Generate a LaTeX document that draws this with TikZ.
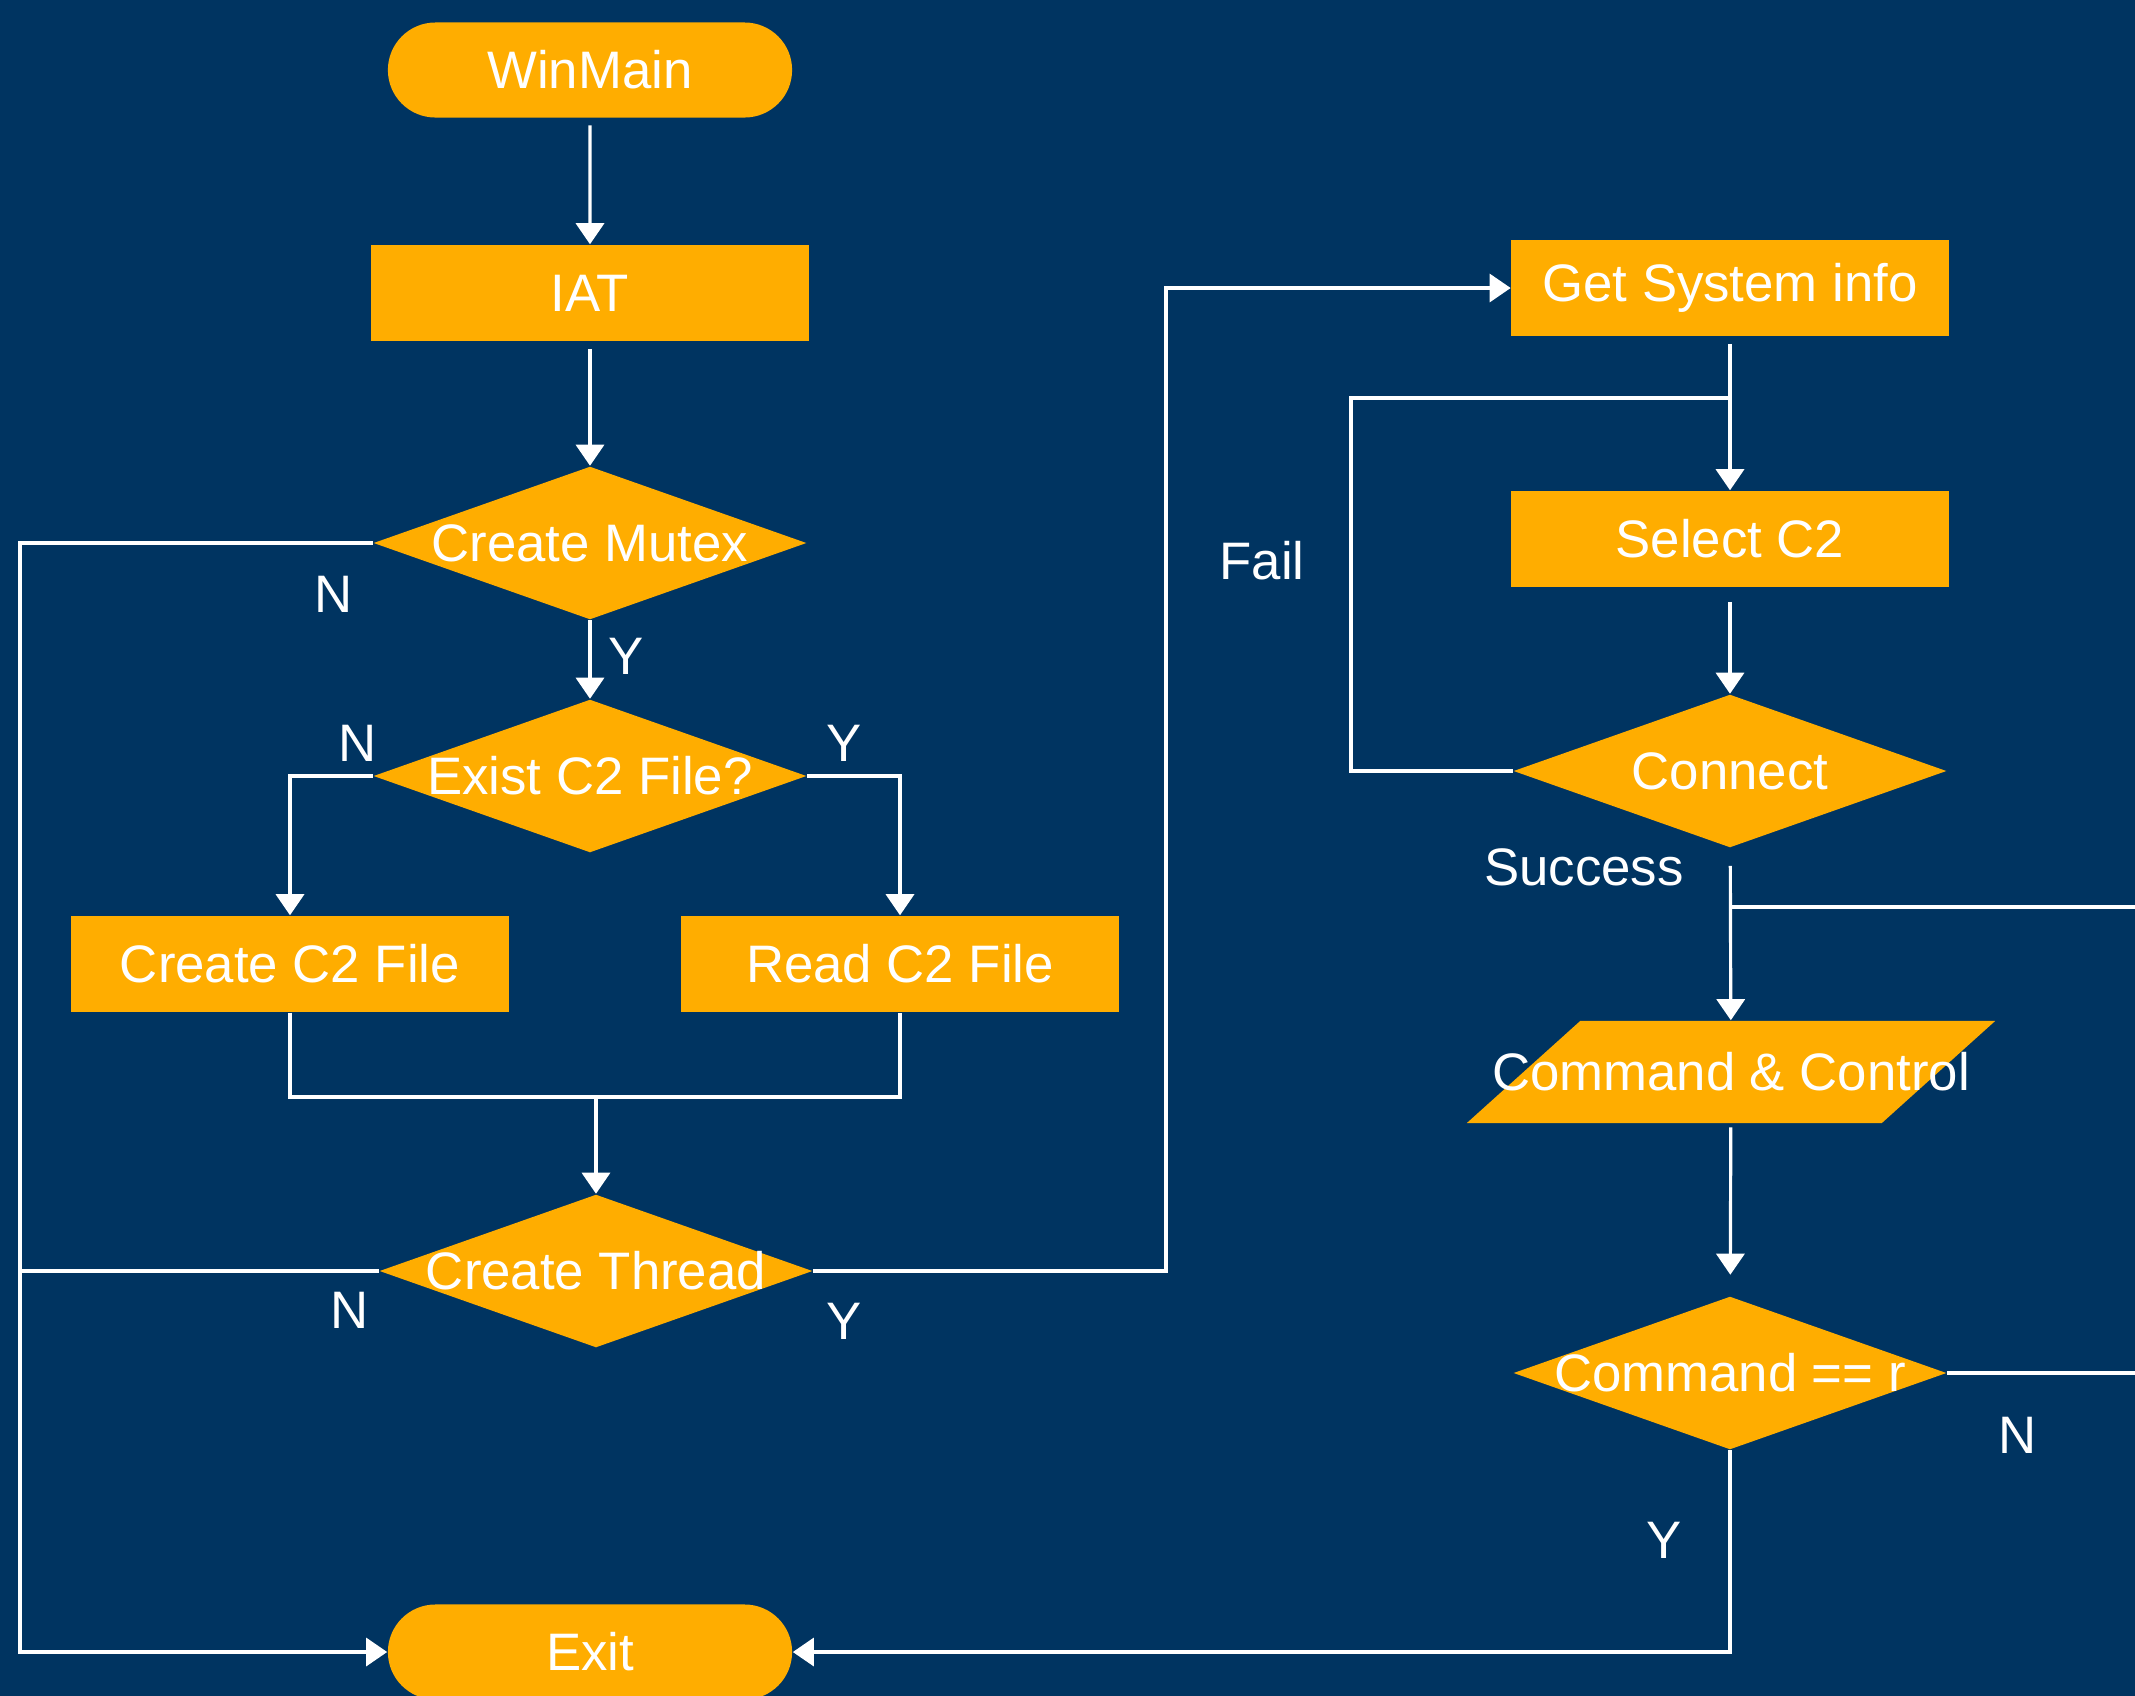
\documentclass[tikz,border=0pt]{standalone}
\usepackage{fontspec}
\setmainfont{Liberation Sans}
\usetikzlibrary{arrows.meta, shapes.geometric, shapes.misc}
\definecolor{boardnavy}{HTML}{003461}
\definecolor{flowamber}{HTML}{FFAD00}

\begin{document}
\begin{tikzpicture}[
  x=0.01cm, y=-0.01cm,
  every node/.style={font=\fontsize{15}{18}\selectfont, text=white},
  term/.style={rounded rectangle, fill=flowamber, minimum width=4.04cm,
    minimum height=0.95cm, inner sep=0pt},
  proc/.style={rectangle, fill=flowamber, minimum width=4.37cm,
    minimum height=0.96cm, inner sep=0pt},
  decision/.style={diamond, fill=flowamber, minimum width=4.33cm,
    minimum height=1.53cm, inner sep=0pt, label={center:#1}},
  io/.style={trapezium, trapezium left angle=42, trapezium right angle=138,
    trapezium stretches body, fill=flowamber, minimum width=5.28cm,
    text height=1.02cm, text depth=0pt, inner sep=0pt, label={center:#1}},
  wire/.style={white, line width=0.9pt},
  arr/.style={wire, -{Triangle[width=8pt, length=6pt]}}
]
  \useasboundingbox (0,0) rectangle (2135,1696);
  \clip (0,0) rectangle (2135,1696);
  \fill[boardnavy] (0,0) rectangle (2135,1696);

  % Main thread
  \node[term] (winmain) at (590,70) {WinMain};
  \node[proc] (iat) at (590,293) {IAT};
  \node[decision=Create Mutex] (mutex) at (590,543) {};
  \node[decision=Exist C2 File?] (exist) at (590,776) {};
  \node[proc] (mkfile) at (290,964) {Create C2 File};
  \node[proc] (rdfile) at (900,964) {Read C2 File};
  \node[decision=Create Thread] (thread) at (596,1271) {};
  \node[term] (quit) at (590,1652) {Exit};

  % Worker thread
  \node[proc] (sysinfo) at (1730,288) {Get System info};
  \node[proc] (pickc2) at (1730,539) {Select C2};
  \node[decision=Connect] (connect) at (1730,771) {};
  \node[io={Command \& Control}] (cnc) at (1731,1072) {};
  \node[decision={Command == r}] (cmdr) at (1730,1373) {};

  % Bend points
  \coordinate (rail) at (20,543);
  \coordinate (merge) at (596,1097);
  \coordinate (bridge) at (1166,288);
  \coordinate (retry) at (1351,398);
  \coordinate (loopin) at (2140,907);
  \coordinate (loopout) at (2140,1373);

  \draw[arr, shorten <=2pt] (winmain) -- (iat);
  \draw[arr, shorten <=2pt] (iat) -- (mutex);
  \draw[arr] (mutex) -- (exist);
  \draw[arr] (mutex.west) -- (rail) |- (quit.west);
  \draw[wire] (thread.west) -- (thread.west -| rail);
  \draw[arr] (exist.west) -| (mkfile.north);
  \draw[arr] (exist.east) -| (rdfile.north);
  \draw[wire] (mkfile.south) |- (merge) -| (rdfile.south);
  \draw[arr] (merge) -- (thread.north);
  \draw[arr] (thread.east) -| (bridge) -- (sysinfo.west);
  \draw[arr, shorten <=2pt] (sysinfo) -- (pickc2);
  \draw[wire] (connect.west) -| (retry) -- (retry -| pickc2.north);
  \draw[arr, shorten <=4pt] (pickc2) -- (connect);
  \draw[arr, shorten <=5pt] (connect) -- (cnc);
  \draw[wire] (loopin -| connect.south) -- (loopin);
  \draw[arr, shorten <=1pt, shorten >=6pt] (cnc) -- (cmdr);
  \draw[wire] (cmdr.east) -- (loopout);
  \draw[arr] (cmdr.south) |- (quit.east);

  % Branch labels
  \node (mutexno) at (334,594) {N};
  \node (mutexyes) at (626,656) {Y};
  \node (existno) at (358,743) {N};
  \node (existyes) at (844,743) {Y};
  \node (threadno) at (350,1310) {N};
  \node (threadyes) at (844,1321) {Y};
  \node (failtag) at (1262,561) {Fail};
  \node (oktag) at (1584,867) {Success};
  \node (cmdno) at (2018,1435) {N};
  \node (cmdyes) at (1664,1540) {Y};
\end{tikzpicture}
\end{document}
